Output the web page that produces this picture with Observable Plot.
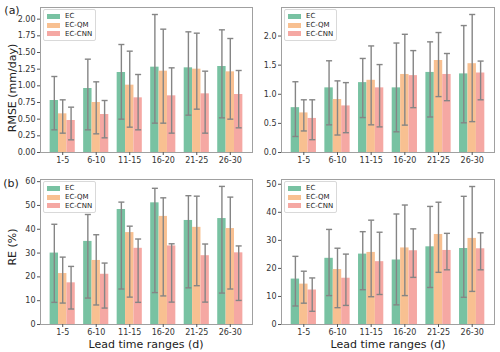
<!DOCTYPE html>
<html>
<head>
<meta charset="utf-8">
<script src="https://cdn.jsdelivr.net/npm/d3@7"></script>
<script src="https://cdn.jsdelivr.net/npm/@observablehq/plot@0.6"></script>
<style>
  body { margin: 0; background: #fff; }
  #fig { position: relative; width: 500px; height: 352px; background: #fff; font-family: "DejaVu Sans", sans-serif; color: #222; overflow: hidden; }
  .panel { position: absolute; }
  .lbl { position: absolute; white-space: nowrap; font-size: 11px; line-height: 11px; color: #222; }
  .ylab { transform: translate(-50%, -50%) rotate(-90deg); }
  .legend { position: absolute; border: 1px solid #d9d9d9; border-radius: 2px; background: rgba(255,255,255,0.85); padding: 2px 3px; font-size: 7px; }
  .legend .row { display: flex; align-items: center; height: 8.7px; }
  .legend .sw { width: 13px; height: 5px; margin-right: 5px; }
</style>
</head>
<body>
<div id="fig"></div>
<script>
const cats = ["1-5", "6-10", "11-15", "16-20", "21-25", "26-30"];
const series = ["EC", "EC-QM", "EC-CNN"];
const colors = ["#78c2a2", "#f8c091", "#f5a8a3"];

// (a) left: RMSE (mm/day)
const a_mean = [[0.78, 0.96, 1.20, 1.28, 1.27, 1.29], [0.58, 0.75, 1.01, 1.22, 1.25, 1.21], [0.48, 0.57, 0.82, 0.85, 0.88, 0.87]];
const a_lo   = [[0.34, 0.34, 0.50, 0.44, 0.56, 0.52], [0.29, 0.28, 0.38, 0.44, 0.65, 0.50], [0.19, 0.22, 0.34, 0.29, 0.29, 0.37]];
const a_hi   = [[1.14, 1.40, 1.62, 2.07, 1.81, 1.84], [0.79, 1.06, 1.52, 1.85, 1.79, 1.71], [0.68, 0.78, 1.17, 1.27, 1.22, 1.23]];
// (a) right
const b_mean = [[0.77, 1.11, 1.20, 1.11, 1.375, 1.35], [0.68, 0.91, 1.24, 1.34, 1.58, 1.525], [0.585, 0.80, 1.11, 1.32, 1.34, 1.365]];
const b_lo   = [[0.275, 0.475, 0.60, 0.355, 0.61, 0.51], [0.37, 0.30, 0.475, 0.47, 0.96, 0.53], [0.22, 0.34, 0.44, 0.77, 0.89, 0.905]];
const b_hi   = [[1.215, 1.575, 1.615, 1.88, 1.90, 2.18], [0.905, 1.23, 1.83, 2.03, 2.06, 2.37], [0.905, 1.20, 1.51, 1.75, 1.70, 1.57]];
// (b) left: RE (%)
const c_mean = [[30.0, 34.9, 48.3, 51.1, 43.7, 44.5], [21.4, 26.9, 38.6, 45.4, 40.8, 40.3], [17.5, 21.1, 32.0, 33.0, 28.9, 30.1]];
const c_lo   = [[9.3, 11.1, 14.9, 13.4, 15.4, 13.2], [9.0, 8.2, 11.5, 12.0, 16.3, 14.9], [6.5, 6.9, 9.3, 9.4, 9.4, 10.1]];
const c_hi   = [[42.1, 46.2, 51.4, 57.2, 54.1, 58.0], [28.3, 37.7, 41.3, 53.2, 53.9, 53.5], [24.4, 25.8, 35.9, 33.9, 33.8, 33.0]];
// (b) right
const d_mean = [[16.2, 23.6, 25.1, 23.0, 27.7, 27.1], [14.4, 19.6, 25.7, 27.3, 32.1, 30.7], [12.3, 16.5, 22.4, 26.3, 26.4, 27.0]];
const d_lo   = [[6.6, 10.3, 12.4, 7.0, 13.2, 9.7], [7.6, 6.0, 9.9, 10.3, 18.6, 11.8], [4.7, 6.8, 10.7, 16.8, 19.5, 19.5]];
const d_hi   = [[24.3, 33.9, 33.1, 39.4, 42.1, 45.7], [19.0, 27.2, 37.2, 42.6, 43.6, 49.2], [16.6, 25.1, 32.9, 34.1, 32.5, 32.7]];

const fig = document.getElementById("fig");
const BW = 0.25;   // bar width in group units
const CAP = 0.09;  // half cap width

function rows(mean, lo, hi) {
  const out = [];
  series.forEach((s, si) => cats.forEach((c, ci) => {
    const xc = ci + (si - 1) * BW;
    out.push({s, si, c, xc, x1: xc - BW / 2, x2: xc + BW / 2, cl: xc - CAP, cr: xc + CAP, v: mean[si][ci], lo: lo[si][ci], hi: hi[si][ci]});
  }));
  return out;
}

function panel({mean, lo, hi, left, top, width, height, mL, mR, mT, mB, ymax, yticks, yfmt}) {
  const data = rows(mean, lo, hi);
  const p = Plot.plot({
    width, height,
    marginLeft: mL, marginRight: mR, marginTop: mT, marginBottom: mB,
    style: {fontFamily: "DejaVu Sans, sans-serif", fontSize: "8px", color: "#333", background: "transparent"},
    x: {domain: [-0.6625, 5.6625]},
    y: {domain: [0, ymax]},
    color: {domain: series, range: colors},
    marks: [
      Plot.rect(data, {x1: "x1", x2: "x2", y1: 0, y2: "v", fill: "s"}),
      Plot.link(data, {x1: "xc", x2: "xc", y1: "lo", y2: "hi", stroke: "#858585", strokeWidth: 1.4}),
      Plot.link(data, {x1: "cl", x2: "cr", y1: "lo", y2: "lo", stroke: "#858585", strokeWidth: 1.4}),
      Plot.link(data, {x1: "cl", x2: "cr", y1: "hi", y2: "hi", stroke: "#858585", strokeWidth: 1.4}),
      Plot.frame({stroke: "#a0a0a0", strokeWidth: 1}),
      Plot.axisX({ticks: d3.range(cats.length), tickFormat: i => cats[i], tickSize: 3, tickPadding: 2, label: null, stroke: "#555"}),
      Plot.axisY({ticks: yticks, tickFormat: yfmt, tickSize: 3, tickPadding: 2, label: null, stroke: "#555"})
    ]
  });
  p.classList.add("panel");
  p.style.left = left + "px";
  p.style.top = top + "px";
  fig.appendChild(p);
  // legend
  const lg = document.createElement("div");
  lg.className = "legend";
  lg.style.left = (left + mL + 3) + "px";
  lg.style.top = (top + mT + 2) + "px";
  series.forEach((s, i) => {
    const r = document.createElement("div");
    r.className = "row";
    r.innerHTML = `<span class="sw" style="background:${colors[i]}"></span><span>${s}</span>`;
    lg.appendChild(r);
  });
  fig.appendChild(lg);
}

function label(text, x, y, cls) {
  const d = document.createElement("div");
  d.className = "lbl " + (cls || "");
  d.textContent = text;
  d.style.left = x + "px";
  d.style.top = y + "px";
  if (!cls) d.style.transform = "translate(-50%, -50%)";
  fig.appendChild(d);
}

panel({mean: a_mean, lo: a_lo, hi: a_hi, left: 0, top: 0, width: 260, height: 172, mL: 40, mR: 8, mT: 7, mB: 20, ymax: 2.175, yticks: d3.range(0, 2.01, 0.25), yfmt: d3.format(".2f")});
panel({mean: b_mean, lo: b_lo, hi: b_hi, left: 260, top: 0, width: 240, height: 172, mL: 21, mR: 6, mT: 7, mB: 20, ymax: 2.49, yticks: d3.range(0, 2.01, 0.5), yfmt: d3.format(".1f")});
panel({mean: c_mean, lo: c_lo, hi: c_hi, left: 0, top: 172, width: 260, height: 180, mL: 40, mR: 8, mT: 7, mB: 28, ymax: 60.9, yticks: d3.range(0, 61, 10), yfmt: d3.format("d")});
panel({mean: d_mean, lo: d_lo, hi: d_hi, left: 260, top: 172, width: 240, height: 180, mL: 21, mR: 6, mT: 7, mB: 28, ymax: 51.7, yticks: d3.range(0, 51, 10), yfmt: d3.format("d")});

label("(a)", 12, 10);
label("(b)", 11, 183);
label("RMSE (mm/day)", 12, 88, "ylab");
label("RE (%)", 12, 247, "ylab");
label("Lead time ranges (d)", 146, 344);
label("Lead time ranges (d)", 388, 344);
</script>
</body>
</html>
